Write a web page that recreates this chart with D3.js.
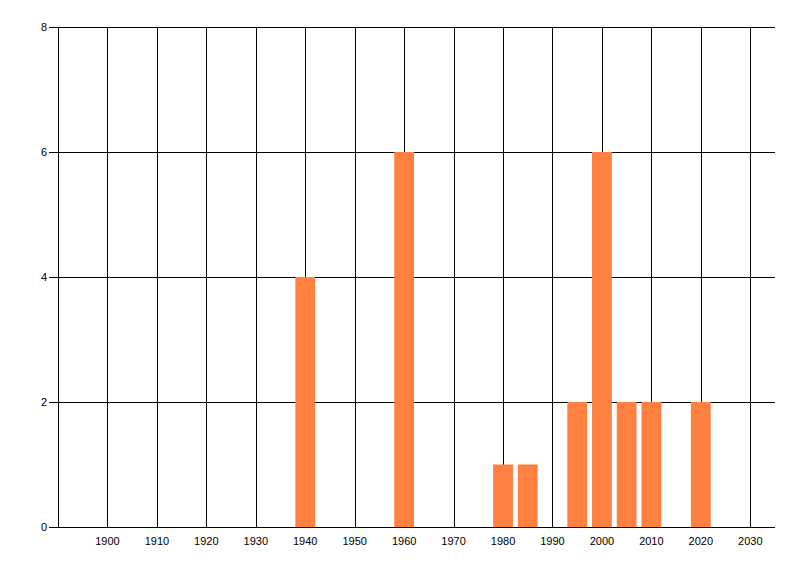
<!DOCTYPE html>
<html><head><meta charset="utf-8">
<script src="https://cdn.jsdelivr.net/npm/d3@7"></script>
<style>body{margin:0;background:#fff}svg{display:block}text{font-family:"Liberation Sans",Arial,sans-serif;font-size:11px;fill:#000}</style>
</head><body>
<svg id="c" width="800" height="576"></svg>
<script>
const years = [1940, 1960, 1980, 1985, 1995, 2000, 2005, 2010, 2020];
const counts = [4, 6, 1, 1, 2, 6, 2, 2, 2];
const xTicks = [1900,1910,1920,1930,1940,1950,1960,1970,1980,1990,2000,2010,2020,2030];
const yTicks = [0,2,4,6,8];

const svg = d3.select("#c");
const L = 58, R = 775, T = 27, B = 527;
const x = d3.scaleLinear().domain([1890, 2035]).range([L, R]);
const y = d3.scaleLinear().domain([0, 8]).range([B, T]);

// vertical gridlines
svg.append("g").selectAll("line").data(xTicks).join("line")
  .attr("x1", d => Math.round(x(d)) + 0.5).attr("x2", d => Math.round(x(d)) + 0.5)
  .attr("y1", T).attr("y2", B).attr("stroke", "#000");
// horizontal gridlines + ticks
svg.append("g").selectAll("line").data(yTicks).join("line")
  .attr("x1", L - 9).attr("x2", R)
  .attr("y1", d => Math.round(y(d)) + 0.5).attr("y2", d => Math.round(y(d)) + 0.5)
  .attr("stroke", "#000");
// y axis line
svg.append("line").attr("x1", L + 0.5).attr("x2", L + 0.5).attr("y1", T).attr("y2", B).attr("stroke", "#000");

// bars
svg.append("g").selectAll("rect").data(years).join("rect")
  .attr("x", d => x(d - 2)).attr("width", d => x(d + 2) - x(d - 2))
  .attr("y", (d, i) => y(counts[i])).attr("height", (d, i) => y(0) - y(counts[i]))
  .attr("fill", "#ff8040");

// y labels
svg.append("g").selectAll("text").data(yTicks).join("text")
  .attr("x", L - 11).attr("y", d => y(d)).attr("dy", "0.35em")
  .attr("text-anchor", "end").text(d => d);
// x labels
svg.append("g").selectAll("text").data(xTicks).join("text")
  .attr("x", d => x(d)).attr("y", B + 14).attr("dy", "0.35em")
  .attr("text-anchor", "middle").text(d => d);
</script>
</body></html>
